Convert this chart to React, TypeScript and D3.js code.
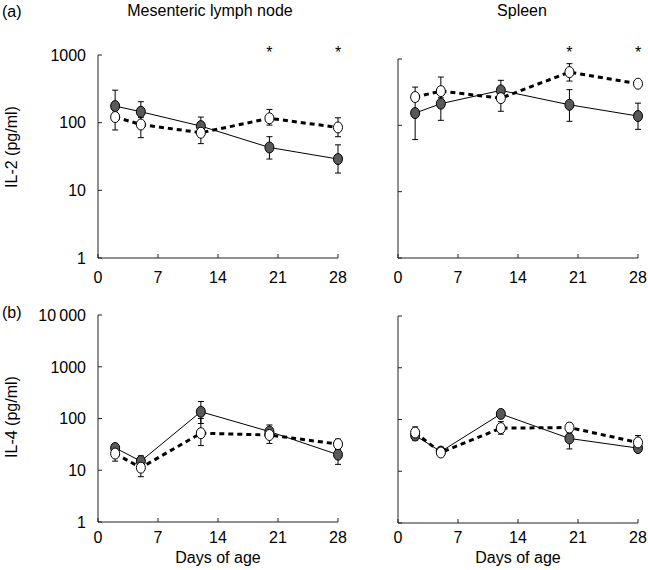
import React from "react";
import * as d3 from "d3";

// days sampled
const days = [2, 5, 12, 20, 28];
const xTicks = [0, 7, 14, 21, 28];

// (a) IL-2, mesenteric lymph node
const mlnIL2Solid = [176, 145, 89, 43, 29];
const mlnIL2SolidLo = [120, 100, 65, 29, 18];
const mlnIL2SolidHi = [302, 204, 121, 62, 47];
const mlnIL2Open = [121, 94, 71, 116, 85];
const mlnIL2OpenLo = [78, 60, 49, 92, 62];
const mlnIL2OpenHi = [150, 120, 90, 157, 118];

// (a) IL-2, spleen
const splIL2Solid = [153, 212, 336, 204, 138];
const splIL2SolidLo = [61, 119, 250, 115, 87];
const splIL2SolidHi = [230, 330, 477, 345, 216];
const splIL2Open = [267, 328, 257, 634, 424];
const splIL2OpenLo = [230, 260, 163, 465, 380];
const splIL2OpenHi = [377, 535, 320, 850, 470];

// (b) IL-4, mesenteric lymph node
const mlnIL4Solid = [27, 15, 135, 56, 20];
const mlnIL4SolidLo = [24, 12, 80, 45, 13];
const mlnIL4SolidHi = [30, 19, 213, 75, 25];
const mlnIL4Open = [21, 11.2, 52, 48, 32];
const mlnIL4OpenLo = [15, 7.5, 30, 33, 26];
const mlnIL4OpenHi = [25, 14, 100, 60, 40];

// (b) IL-4, spleen
const splIL4Solid = [49, 24, 128, 43, 28];
const splIL4SolidLo = [44, 20, 118, 27, 25];
const splIL4SolidHi = [54, 28, 138, 55, 31];
const splIL4Open = [56, 23, 68, 70, 36];
const splIL4OpenLo = [40, 20, 52, 58, 30];
const splIL4OpenHi = [72, 29, 91, 85, 49];

const il2Ticks = [1, 10, 100, 1000];
const il2Labels = ["1", "10", "100", "1000"];
const il4Ticks = [1, 10, 100, 1000, 10000];
const il4Labels = ["1", "10", "100", "1000", "10\u2009000"];
const starDays = [20, 28];

const FONT = "'Liberation Sans', Arial, Helvetica, sans-serif";

type Series = { mean: number[]; lo: number[]; hi: number[] };

type PanelProps = {
  x0: number;
  x1: number;
  yTop: number;
  yBot: number;
  yMax: number;
  yTicks: number[];
  yLabels?: string[];
  solid: Series;
  open: Series;
  stars?: number[];
  starY?: number;
  labelY: number;
};

const Panel: React.FC<PanelProps> = ({
  x0, x1, yTop, yBot, yMax, yTicks, yLabels, solid, open, stars, starY, labelY,
}) => {
  const x = d3.scaleLinear().domain([0, 28]).range([x0, x1]);
  const y = d3.scaleLog().domain([1, yMax]).range([yBot, yTop]);
  const line = d3
    .line<number>()
    .x((_, i) => x(days[i]))
    .y((d) => y(d));
  const cap = 3;

  const errBars = (s: Series) =>
    days.map((d, i) => (
      <g key={i} stroke="#000" strokeWidth={1}>
        <line x1={x(d)} x2={x(d)} y1={y(s.lo[i])} y2={y(s.hi[i])} />
        <line x1={x(d) - cap} x2={x(d) + cap} y1={y(s.hi[i])} y2={y(s.hi[i])} />
        <line x1={x(d) - cap} x2={x(d) + cap} y1={y(s.lo[i])} y2={y(s.lo[i])} />
      </g>
    ));

  return (
    <g>
      {/* axes */}
      <line x1={x0} x2={x0} y1={yTop} y2={yBot} stroke="#222" strokeWidth={1} />
      <line x1={x0} x2={x1} y1={yBot} y2={yBot} stroke="#222" strokeWidth={1} />
      {yTicks.map((t, i) => (
        <g key={t}>
          <line x1={x0} x2={x0 + 4} y1={y(t)} y2={y(t)} stroke="#222" />
          {yLabels && (
            <text
              x={x0 - 12}
              y={y(t)}
              dy="0.36em"
              textAnchor="end"
              fontSize={16}
              fontFamily={FONT}
            >
              {yLabels[i]}
            </text>
          )}
        </g>
      ))}
      {xTicks.map((t) => (
        <g key={t}>
          <line x1={x(t)} x2={x(t)} y1={yBot} y2={yBot - 4} stroke="#222" />
          <text x={x(t)} y={labelY} textAnchor="middle" fontSize={16} fontFamily={FONT}>
            {t}
          </text>
        </g>
      ))}
      {/* lines */}
      <path d={line(solid.mean) || ""} fill="none" stroke="#000" strokeWidth={1} />
      <path
        d={line(open.mean) || ""}
        fill="none"
        stroke="#000"
        strokeWidth={3}
        strokeDasharray="5,4"
      />
      {errBars(solid)}
      {errBars(open)}
      {days.map((d, i) => (
        <ellipse
          key={"s" + i}
          cx={x(d)}
          cy={y(solid.mean[i])}
          rx={4.5}
          ry={5.5}
          fill="#595959"
          stroke="#000"
          strokeWidth={1}
        />
      ))}
      {days.map((d, i) => (
        <ellipse
          key={"o" + i}
          cx={x(d)}
          cy={y(open.mean[i])}
          rx={4.5}
          ry={5.5}
          fill="#fff"
          stroke="#000"
          strokeWidth={1}
        />
      ))}
      {stars &&
        stars.map((d) => (
          <text
            key={d}
            x={x(d)}
            y={starY}
            textAnchor="middle"
            fontSize={16}
            fontFamily={FONT}
          >
            *
          </text>
        ))}
    </g>
  );
};

const App: React.FC = () => {
  return (
    <svg
      width={648}
      height={570}
      style={{ position: "absolute", left: 0, top: 0, background: "#fff" }}
    >
      <text x={2} y={17} fontSize={16} fontFamily={FONT}>(a)</text>
      <text x={2} y={318} fontSize={16} fontFamily={FONT}>(b)</text>
      <text x={210} y={16} textAnchor="middle" fontSize={16} fontFamily={FONT}>
        Mesenteric lymph node
      </text>
      <text x={522} y={16} textAnchor="middle" fontSize={16} fontFamily={FONT}>
        Spleen
      </text>
      <text
        transform="translate(17,147) rotate(-90)"
        textAnchor="middle"
        fontSize={16}
        fontFamily={FONT}
      >
        IL-2 (pg/ml)
      </text>
      <text
        transform="translate(17,417) rotate(-90)"
        textAnchor="middle"
        fontSize={16}
        fontFamily={FONT}
      >
        IL-4 (pg/ml)
      </text>

      <Panel
        x0={98}
        x1={338}
        yTop={55}
        yBot={258}
        yMax={1000}
        yTicks={il2Ticks}
        yLabels={il2Labels}
        solid={{ mean: mlnIL2Solid, lo: mlnIL2SolidLo, hi: mlnIL2SolidHi }}
        open={{ mean: mlnIL2Open, lo: mlnIL2OpenLo, hi: mlnIL2OpenHi }}
        stars={starDays}
        starY={58}
        labelY={283}
      />
      <Panel
        x0={398}
        x1={638}
        yTop={59}
        yBot={258}
        yMax={1000}
        yTicks={il2Ticks}
        solid={{ mean: splIL2Solid, lo: splIL2SolidLo, hi: splIL2SolidHi }}
        open={{ mean: splIL2Open, lo: splIL2OpenLo, hi: splIL2OpenHi }}
        stars={starDays}
        starY={58}
        labelY={283}
      />
      <Panel
        x0={98}
        x1={338}
        yTop={315}
        yBot={522}
        yMax={10000}
        yTicks={il4Ticks}
        yLabels={il4Labels}
        solid={{ mean: mlnIL4Solid, lo: mlnIL4SolidLo, hi: mlnIL4SolidHi }}
        open={{ mean: mlnIL4Open, lo: mlnIL4OpenLo, hi: mlnIL4OpenHi }}
        labelY={543}
      />
      <Panel
        x0={398}
        x1={638}
        yTop={316}
        yBot={523}
        yMax={10000}
        yTicks={il4Ticks}
        solid={{ mean: splIL4Solid, lo: splIL4SolidLo, hi: splIL4SolidHi }}
        open={{ mean: splIL4Open, lo: splIL4OpenLo, hi: splIL4OpenHi }}
        labelY={543}
      />
      <text x={218} y={563} textAnchor="middle" fontSize={16} fontFamily={FONT}>
        Days of age
      </text>
      <text x={518} y={563} textAnchor="middle" fontSize={16} fontFamily={FONT}>
        Days of age
      </text>
    </svg>
  );
};

export default App;
